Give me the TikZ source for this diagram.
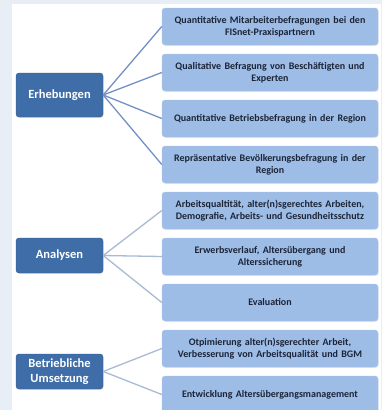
\documentclass[tikz,border=0pt]{standalone}
\usepackage{fontspec}
\setmainfont{Carlito}
\usetikzlibrary{shadows}

\definecolor{pagebg}{HTML}{E8EEF5}
\definecolor{topicfill}{HTML}{3F6DA7}
\definecolor{topicline}{HTML}{33598C}
\definecolor{itemfill}{HTML}{9DBCE6}
\definecolor{itemline}{HTML}{B4CBEC}
\definecolor{itemtext}{HTML}{1C2538}
\definecolor{linkdark}{HTML}{7391C2}
\definecolor{linklight}{HTML}{A9BAD3}

\begin{document}
\begin{tikzpicture}[x=1pt,y=-1pt,
  topic/.style={draw=topicline,fill=topicfill,rounded corners=3pt,text=white,
    font=\bfseries\fontsize{12.5}{14.5}\selectfont,align=center,
    minimum width=87pt,inner sep=0pt,
    drop shadow={shadow xshift=0.6pt,shadow yshift=-0.8pt,opacity=0.2}},
  item/.style={draw=itemline,fill=itemfill,rounded corners=3pt,text=itemtext,
    font=\bfseries\fontsize{10}{12}\selectfont,align=center,
    minimum width=216pt,minimum height=37pt,text width=212pt,inner sep=0pt,
    drop shadow={shadow xshift=0.6pt,shadow yshift=-0.8pt,opacity=0.2}},
  link/.style={line width=1.3pt}]
  \clip (0,0) rectangle (382,410);
  \fill[pagebg] (0,0) rectangle (382,410);
  \fill[white] (12,4) rectangle (381,410);
  % right column
  \foreach \txt [count=\i] in {%
    {Quantitative Mitarbeiterbefragungen bei den\\FISnet-Praxispartnern},
    {Qualitative Befragung von Beschäftigten und\\Experten},
    {Quantitative Betriebsbefragung in der Region},
    {Repräsentative Bevölkerungsbefragung in der\\Region},
    {Arbeitsqualtität, alter(n)sgerechtes Arbeiten,\\Demografie, Arbeits- und Gesundheitsschutz},
    {Erwerbsverlauf, Altersübergang und\\Alterssicherung},
    {Evaluation},
    {Otpimierung alter(n)sgerechter Arbeit,\\Verbesserung von Arbeitsqualität und BGM},
    {Entwicklung Altersübergangsmanagement}}{%
    \node[item] (I-\i) at (270,{26.5+46*(\i-1)}) {\txt};
  }
  % left column
  \node[topic,minimum height=44pt] (erheb) at (59.5,95) {Erhebungen};
  \node[topic,minimum height=35pt] (analy) at (59.5,255.5) {Analysen};
  \node[topic,minimum height=35pt] (umsetz) at (59.5,371.5) {Betriebliche\\Umsetzung};
  % connectors
  \foreach \j in {1,...,4}{%
    \draw[link,linkdark] (erheb.east) -- (I-\j.west);
  }
  \foreach \j in {5,6,7}{%
    \draw[link,linklight] (analy.east) -- (I-\j.west);
  }
  \foreach \j in {8,9}{%
    \draw[link,linklight] (umsetz.east) -- (I-\j.west);
  }
\end{tikzpicture}
\end{document}
